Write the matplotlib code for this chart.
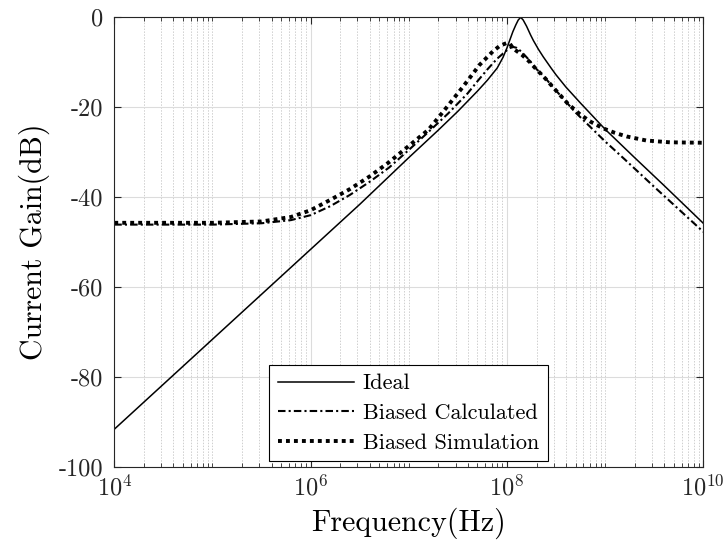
import numpy as np
import matplotlib
matplotlib.use("Agg")
import matplotlib.pyplot as plt
from matplotlib import ticker

# ---- data (log10 of frequency in Hz, gain in dB) ----
ideal_logf = [4.0, 5.0, 6.0, 6.5, 7.0, 7.3, 7.5, 7.7, 7.8, 7.9, 7.96, 8.0, 8.03,
              8.06, 8.09, 8.115, 8.14, 8.165, 8.2, 8.24, 8.27, 8.32, 8.37, 8.45,
              8.5, 8.6, 8.75, 9.0, 9.3, 9.6, 10.0]
ideal_db = [-91.6, -71.6, -51.6, -41.6, -31.2, -25.1, -20.9, -16.4, -14.0, -11.3,
            -8.9, -6.8, -5.0, -3.2, -1.7, -0.6, 0.0, -0.6, -2.0, -3.9, -5.2, -7.1,
            -8.8, -11.3, -12.8, -15.5, -19.1, -24.9, -31.2, -37.4, -45.8]

calc_logf = [4.0, 5.0, 5.5, 5.8, 6.0, 6.2, 6.4, 6.6, 6.8, 7.0, 7.2, 7.4, 7.6, 7.7,
             7.8, 7.9, 8.0, 8.035, 8.066, 8.1, 8.15, 8.23, 8.3, 8.37, 8.5, 8.7,
             9.0, 9.2, 9.5, 10.0]
calc_db = [-46.1, -46.1, -45.8, -45.1, -44.0, -42.0, -39.5, -36.6, -33.4, -29.5,
           -25.5, -21.4, -16.9, -14.2, -11.6, -9.2, -7.3, -6.8, -6.6, -6.8, -7.7,
           -9.6, -11.5, -13.0, -16.3, -21.2, -27.6, -31.6, -37.7, -47.7]

sim_logf = [4.0, 5.0, 5.5, 5.8, 6.0, 6.2, 6.4, 6.6, 6.8, 7.0, 7.2, 7.35, 7.55,
            7.72, 7.86, 7.93, 8.0, 8.03, 8.066, 8.15, 8.23, 8.3, 8.37, 8.5, 8.62,
            8.74, 8.85, 8.98, 9.1, 9.22, 9.42, 9.66, 10.0]
sim_db = [-45.7, -45.7, -45.4, -44.4, -42.9, -40.6, -38.2, -35.4, -32.2, -28.6,
          -25.0, -21.0, -15.5, -10.6, -7.5, -6.3, -5.7, -5.9, -7.0, -8.3, -9.9,
          -11.6, -13.1, -16.3, -19.2, -21.5, -23.2, -24.7, -25.7, -26.5, -27.4,
          -27.8, -27.9]

series_names = ["Ideal", "Biased Calculated", "Biased Simulation"]
xtick_exp = [4, 6, 8, 10]
ytick_vals = [-100, -80, -60, -40, -20, 0]

# ---- style ----
plt.rcParams["font.family"] = "serif"
plt.rcParams["font.serif"] = ["cmr10"]
plt.rcParams["mathtext.fontset"] = "cm"
plt.rcParams["axes.formatter.use_mathtext"] = True

fig = plt.figure(figsize=(7.28, 5.48), dpi=100)
ax = fig.add_axes([114.3 / 728, 1 - 467 / 548, 589 / 728, 449.7 / 548])

axc = "#262626"
ax.plot(10 ** np.array(ideal_logf), ideal_db, color="black", lw=1.1,
        ls="-", label=series_names[0])
ax.plot(10 ** np.array(calc_logf), calc_db, color="black", lw=1.5,
        ls=(0, (3.6, 1.5, 1.0, 1.5)), label=series_names[1])
ax.plot(10 ** np.array(sim_logf), sim_db, color="black", lw=2.8,
        ls=(0, (1.0, 1.05)), dash_capstyle="butt", label=series_names[2])

ax.set_xscale("log")
ax.set_xlim(1e4, 1e10)
ax.set_ylim(-100, 0)
ax.set_xticks([10.0 ** e for e in xtick_exp])
ax.set_xticklabels([r"$10^{%d}$" % e for e in xtick_exp])
ax.xaxis.set_minor_locator(ticker.LogLocator(base=10, subs=np.arange(1, 10), numticks=100))
ax.xaxis.set_minor_formatter(ticker.NullFormatter())
ax.set_yticks(ytick_vals)
ax.set_yticklabels([str(v) for v in ytick_vals])

ax.grid(True, which="major", color="#dcdcdc", lw=0.8, ls="-")
ax.grid(True, which="minor", axis="x", color="#cfcfcf", lw=0.7, ls=(0, (1.5, 1.5)))
ax.set_axisbelow(True)

for s in ax.spines.values():
    s.set_color(axc)
    s.set_linewidth(0.8)
ax.tick_params(which="both", direction="in", top=True, right=True, color=axc,
               labelcolor=axc, labelsize=17.5)
ax.tick_params(which="major", length=5, width=0.8)
ax.tick_params(which="minor", length=3, width=0.6)
ax.tick_params(axis="y", pad=8)
ax.tick_params(axis="x", pad=6)

ax.set_xlabel("Frequency(Hz)", fontsize=21.5, color="black", labelpad=5)
ax.set_ylabel("Current Gain(dB)", fontsize=21.5, color="black", labelpad=6)

leg = ax.legend(loc="upper left", bbox_to_anchor=(269.3 / 728, 1 - 365 / 548),
                bbox_transform=fig.transFigure, fontsize=16, frameon=True,
                fancybox=False, edgecolor="black", framealpha=1,
                handlelength=3.4, handletextpad=0.4, borderpad=0.4,
                labelspacing=0.45, borderaxespad=0)
leg.get_frame().set_linewidth(0.8)

fig.savefig("out.png", dpi=100)
